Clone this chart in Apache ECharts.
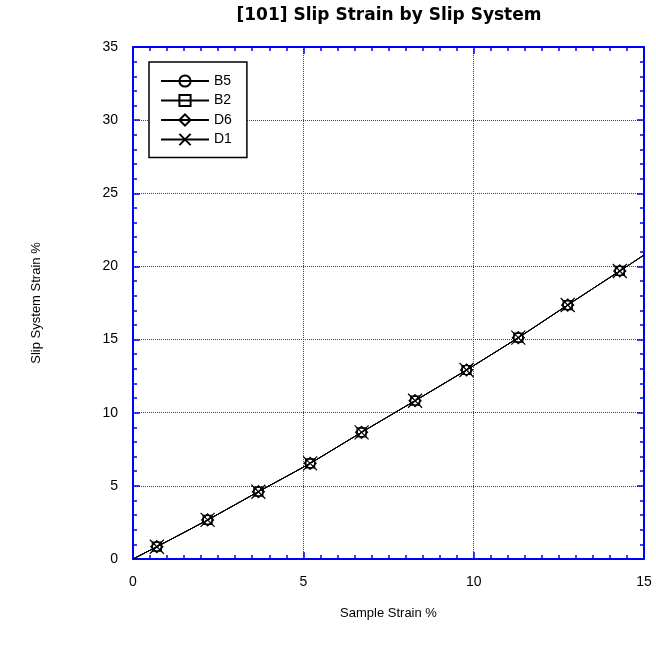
<!DOCTYPE html>
<html>
<head>
<meta charset="utf-8">
<script src="https://cdn.jsdelivr.net/npm/echarts@6/dist/echarts.min.js"></script>
<style>
html,body{margin:0;padding:0;background:#fff;}
#chart{width:656px;height:650px;}
</style>
</head>
<body>
<div id="chart"></div>
<script>
// Data
var sampleStrain = [0, 0.70, 2.19, 3.68, 5.20, 6.71, 8.28, 9.79, 11.31, 12.76, 14.29, 15];
var strainB5 = [0, 0.84, 2.67, 4.60, 6.54, 8.66, 10.82, 12.92, 15.13, 17.36, 19.69, 20.78];
var strainB2 = [0, 0.84, 2.67, 4.60, 6.54, 8.66, 10.82, 12.92, 15.13, 17.36, 19.69, 20.78];
var strainD6 = [0, 0.84, 2.67, 4.60, 6.54, 8.66, 10.82, 12.92, 15.13, 17.36, 19.69, 20.78];
var strainD1 = [0, 0.84, 2.67, 4.60, 6.54, 8.66, 10.82, 12.92, 15.13, 17.36, 19.69, 20.78];
var seriesNames = ['B5', 'B2', 'D6', 'D1'];
var xTicks = [0, 5, 10, 15];
var yTicks = [0, 5, 10, 15, 20, 25, 30, 35];

var FONT = 'Liberation Sans, Arial, sans-serif';
var BLUE = '#0000ff';
var symbols = ['circle', 'rect', 'diamond', 'path://M0,0L10,10M10,0L0,10'];
var sizes = [9, 9, 12, 14];
var values = [strainB5, strainB2, strainD6, strainD1];

function buildData(ys) {
  return sampleStrain.map(function (x, i) {
    var item = { value: [x, ys[i]] };
    if (i === 0 || i === sampleStrain.length - 1) item.symbol = 'none';
    return item;
  });
}

var series = seriesNames.map(function (name, k) {
  return {
    name: name,
    type: 'line',
    data: buildData(values[k]),
    symbol: symbols[k],
    symbolSize: sizes[k],
    showAllSymbol: true,
    smooth: 0.2,
    color: '#000',
    lineStyle: { color: '#000', width: 1 },
    itemStyle: { color: 'transparent', borderColor: '#000', borderWidth: 1.2 },
    emphasis: { disabled: true },
    animation: false,
    z: 3 + k
  };
});

function mkAxis(extra) {
  var a = {
    axisLine: { show: true, onZero: false, lineStyle: { color: BLUE, width: 2 } },
    axisTick: { show: true, inside: true, length: 7, lineStyle: { color: BLUE, width: 1.5 } },
    minorTick: { show: true, length: 4, splitNumber: extra.minorSplit, lineStyle: { color: BLUE, width: 1.5 } },
    axisLabel: { show: !!extra.labels, color: '#000', fontFamily: FONT, fontSize: 14, margin: extra.margin || 8 },
    splitLine: extra.grid
      ? { show: true, lineStyle: { color: '#2a2aff', type: [1, 1], width: 1 } }
      : { show: false },
    minorSplitLine: { show: false },
    splitArea: { show: false }
  };
  delete extra.minorSplit; delete extra.labels; delete extra.margin; delete extra.grid;
  return Object.assign(a, extra);
}

var option = {
  backgroundColor: '#fff',
  animation: false,
  title: {
    text: '[101] Slip Strain by Slip System',
    left: 384, top: 2, textAlign: 'center',
    textStyle: { fontFamily: 'DejaVu Sans, sans-serif', fontWeight: 'bold', fontSize: 17, color: '#000' }
  },
  legend: {
    orient: 'vertical',
    left: 149, top: 62,
    data: seriesNames,
    itemWidth: 48, itemHeight: 14, itemGap: 5.5,
    padding: [12, 15, 11, 11],
    backgroundColor: '#fff',
    borderColor: '#000', borderWidth: 1.5,
    textStyle: { fontFamily: FONT, fontSize: 14, color: '#000', lineHeight: 14 },
    selectedMode: false,
    z: 10
  },
  grid: { left: 133, top: 47, width: 511, height: 512, containLabel: false },
  xAxis: [
    mkAxis({
      type: 'value', min: 0, max: 15, interval: 5, position: 'bottom',
      minorSplit: 10, labels: true, margin: 16, grid: true,
      name: 'Sample Strain %', nameLocation: 'middle', nameGap: 48,
      nameTextStyle: { fontFamily: FONT, fontSize: 13, color: '#000' }
    }),
    mkAxis({ type: 'value', min: 0, max: 15, interval: 5, position: 'top', minorSplit: 10 })
  ],
  yAxis: [
    mkAxis({
      type: 'value', min: 0, max: 35, interval: 5, position: 'left',
      minorSplit: 5, labels: true, margin: 15, grid: true,
      name: 'Slip System Strain %', nameLocation: 'middle', nameGap: 90,
      nameTextStyle: { fontFamily: FONT, fontSize: 13, color: '#000' }
    }),
    mkAxis({ type: 'value', min: 0, max: 35, interval: 5, position: 'right', minorSplit: 5 })
  ],
  series: series
};

var chart = echarts.init(document.getElementById('chart'), null, { renderer: 'canvas' });
chart.setOption(option);
</script>
</body>
</html>
